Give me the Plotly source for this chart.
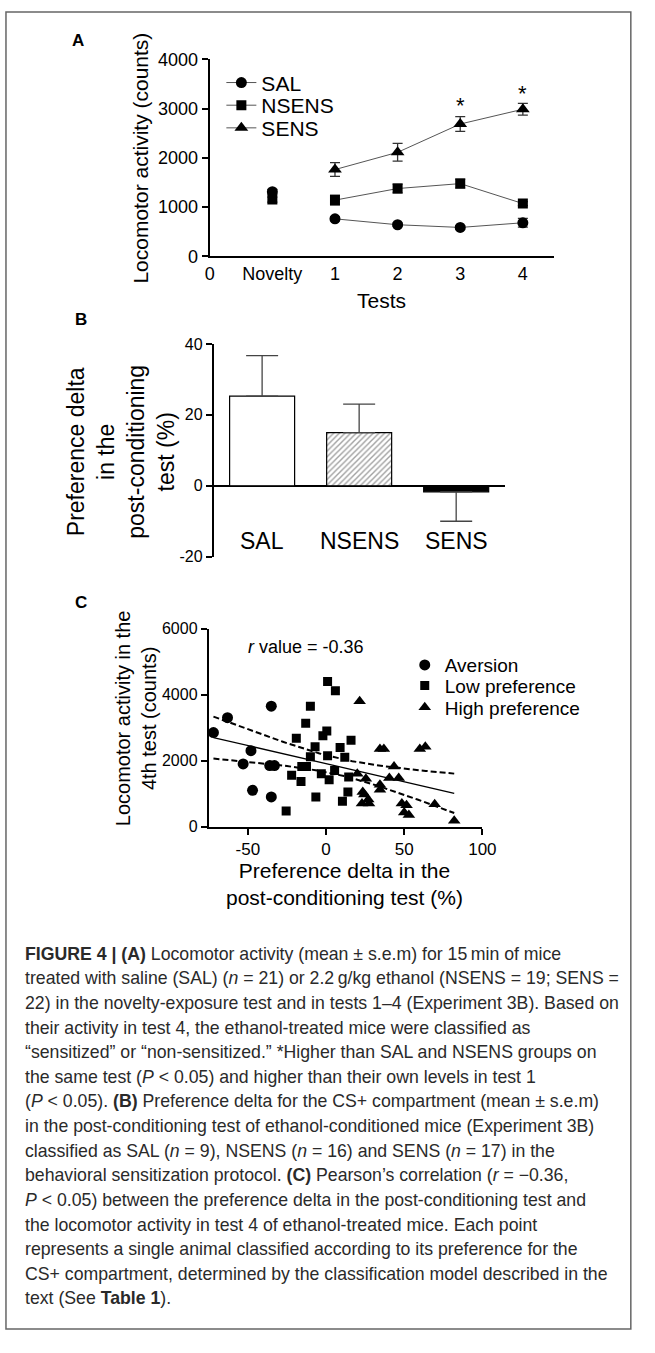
import numpy as np
import plotly.graph_objects as go

# The page body keeps its default 8px margin, so the figure is 16px smaller than the window
# and every position below is given in window pixels, then shifted by the margin.
WIN_W, WIN_H = 655, 1353
OFF = 8
W, H = WIN_W - 2 * OFF, WIN_H - 2 * OFF
def px(x):
    return (x - OFF) / W
def py(y):
    return 1 - (y - OFF) / H

FONT = "Liberation Sans, Arial, sans-serif"
CAPFONT = "Liberation Sans, Arial, sans-serif"

# ---------------- Panel A data ----------------
a_tick_labels = ["0", "Novelty", "1", "2", "3", "4"]
a_tests = ["1", "2", "3", "4"]
a_yticks = [0, 1000, 2000, 3000, 4000]
sal_novelty, sal_novelty_sem = 1310, 50
sal_tests = [760, 640, 585, 680]
sal_sem = [40, 30, 30, 90]
nsens_novelty, nsens_novelty_sem = 1150, 50
nsens_tests = [1140, 1375, 1475, 1070]
nsens_sem = [100, 90, 90, 40]
sens_tests = [1760, 2110, 2685, 2985]
sens_sem = [140, 180, 150, 120]
sig_tests = ["3", "4"]
sig_y = [3060, 3300]

# ---------------- Panel B data ----------------
b_groups = ["SAL", "NSENS", "SENS"]
b_means = [25.3, 15.0, -1.7]
b_sem = [11.4, 8.0, 8.3]
b_yticks = [-20, 0, 20, 40]

# ---------------- Panel C data ----------------
c_xticks = [-50, 0, 50, 100]
c_yticks = [0, 2000, 4000, 6000]
aversion_x = [-72, -63, -35, -48, -53, -36, -33, -47, -35]
aversion_y = [2850, 3300, 3650, 2300, 1900, 1850, 1850, 1100, 900]
low_x = [1, 6, -10, -13, -19, 0.5, -2, 16, -7, 9, 1, 12, -10, -15.5, -12.5,
         -3, 5.5, -22, 2, -16, 14.5, 14, -6.5, 10.5, -25.5]
low_y = [4400, 4120, 3650, 3130, 2680, 2900, 2750, 2620, 2420, 2400, 2150, 2100,
         2120, 1820, 1820, 1600, 1700, 1560, 1420, 1370, 1500, 1050, 900, 770, 470]
high_x = [21.5, 34.5, 37, 60, 63.5, 20, 25.5, 43.5, 40.5, 46.5, 34.5, 34.5, 23.5,
          24.5, 27, 23, 27.5, 48.5, 51.5, 50, 53, 69.5, 82]
high_y = [3800, 2350, 2350, 2350, 2420, 1600, 1450, 1820, 1470, 1470, 1270, 1120,
          1050, 970, 820, 700, 700, 700, 650, 430, 350, 680, 180]

caption_lines = [
    "<b>FIGURE 4 | (A)</b> Locomotor activity (mean ± s.e.m) for 15\u2009min of mice",
    "treated with saline (SAL) (<i>n</i> = 21) or 2.2\u2009g/kg ethanol (NSENS = 19; SENS =",
    "22) in the novelty-exposure test and in tests 1–4 (Experiment 3B). Based on",
    "their activity in test 4, the ethanol-treated mice were classified as",
    "“sensitized” or “non-sensitized.” *Higher than SAL and NSENS groups on",
    "the same test (<i>P</i> < 0.05) and higher than their own levels in test 1",
    "(<i>P</i> < 0.05). <b>(B)</b> Preference delta for the CS+ compartment (mean ± s.e.m)",
    "in the post-conditioning test of ethanol-conditioned mice (Experiment 3B)",
    "classified as SAL (<i>n</i> = 9), NSENS (<i>n</i> = 16) and SENS (<i>n</i> = 17) in the",
    "behavioral sensitization protocol. <b>(C)</b> Pearson’s correlation (<i>r</i> = −0.36,",
    "<i>P</i> < 0.05) between the preference delta in the post-conditioning test and",
    "the locomotor activity in test 4 of ethanol-treated mice. Each point",
    "represents a single animal classified according to its preference for the",
    "CS+ compartment, determined by the classification model described in the",
    "text (See <b>Table 1</b>).",
]

fig = go.Figure()

# ---------------- Panel A traces ----------------
line_col = "#555555"
err = dict(type="data", color="#333333", thickness=1.3, width=5)
series = [
    ("SAL", "circle", sal_tests, sal_sem, sal_novelty, sal_novelty_sem, 11, "legend"),
    ("NSENS", "square", nsens_tests, nsens_sem, nsens_novelty, nsens_novelty_sem, 10, "legend2"),
    ("SENS", "triangle-up", sens_tests, sens_sem, None, None, 12, "legend3"),
]
for name, sym, vals, sem, nov, novsem, msize, leg in series:
    fig.add_trace(go.Scatter(
        x=a_tests, y=vals, mode="lines+markers", name=name,
        line=dict(color=line_col, width=1),
        marker=dict(symbol=sym, size=msize, color="black"),
        error_y=dict(array=sem, **err),
        xaxis="x", yaxis="y", legend=leg))
    if nov is not None:
        fig.add_trace(go.Scatter(
            x=["Novelty"], y=[nov], mode="markers", showlegend=False,
            marker=dict(symbol=sym, size=msize, color="black"),
            error_y=dict(array=[novsem], **err),
            xaxis="x", yaxis="y"))

# ---------------- Panel B traces ----------------
b_err_plus = [s if m >= 0 else 0 for m, s in zip(b_means, b_sem)]
b_err_minus = [s if m < 0 else 0 for m, s in zip(b_means, b_sem)]
fig.add_trace(go.Bar(
    x=b_groups, y=b_means, width=0.67, showlegend=False,
    marker=dict(color=["white", "white", "black"],
                line=dict(color="black", width=1.2),
                pattern=dict(shape=["", "/", ""], fgcolor="black",
                             bgcolor="white", size=4, solidity=0.35)),
    error_y=dict(type="data", symmetric=False, array=b_err_plus,
                 arrayminus=b_err_minus, color="#444444", thickness=1.3, width=16),
    xaxis="x2", yaxis="y2"))

# ---------------- Panel C traces ----------------
groups_c = [
    ("Aversion", "circle", aversion_x, aversion_y, 11, "legend4"),
    ("Low preference", "square", low_x, low_y, 9, "legend5"),
    ("High preference", "triangle-up", high_x, high_y, 11, "legend6"),
]
for name, sym, xs, ys, ms, leg in groups_c:
    fig.add_trace(go.Scatter(
        x=xs, y=ys, mode="markers", name=name,
        marker=dict(symbol=sym, size=ms, color="black"),
        xaxis="x3", yaxis="y3", legend=leg))

all_x = np.array(aversion_x + low_x + high_x, dtype=float)
all_y = np.array(aversion_y + low_y + high_y, dtype=float)
n = len(all_x)
slope, intercept = np.polyfit(all_x, all_y, 1)
xs_fit = np.linspace(all_x.min(), all_x.max(), 60)
yhat = slope * xs_fit + intercept
resid = all_y - (slope * all_x + intercept)
s_err = np.sqrt(np.sum(resid ** 2) / (n - 2))
sxx = np.sum((all_x - all_x.mean()) ** 2)
half = 2.005 * s_err * np.sqrt(1.0 / n + (xs_fit - all_x.mean()) ** 2 / sxx)
fig.add_trace(go.Scatter(x=xs_fit, y=yhat, mode="lines", showlegend=False,
                         line=dict(color="black", width=1.3), xaxis="x3", yaxis="y3"))
for band in (yhat + half, yhat - half):
    fig.add_trace(go.Scatter(x=xs_fit, y=band, mode="lines", showlegend=False,
                             line=dict(color="black", width=2, dash="6px,3px"),
                             xaxis="x3", yaxis="y3"))

# ---------------- Layout ----------------
axis_common = dict(showline=True, linecolor="black", linewidth=2, ticks="outside",
                   ticklen=6, tickwidth=1.5, tickcolor="black", showgrid=False,
                   zeroline=False, tickfont=dict(family=FONT, size=17, color="black"))

annotations = []
# Panel letters
for letter, x0, y0 in [("A", 75, 39), ("B", 78, 322), ("C", 78, 610)]:
    annotations.append(dict(text="<b>%s</b>" % letter, x=px(x0), y=py(y0), xref="paper",
                            yref="paper", xanchor="left", yanchor="middle", showarrow=False,
                            font=dict(family=FONT, size=17, color="black")))

# Panel A texts
annotations.append(dict(text="Locomotor activity (counts)", x=px(148), y=py(158), xref="paper",
                        yref="paper", textangle=-90, showarrow=False, xanchor="center",
                        yanchor="middle", font=dict(family=FONT, size=21, color="black")))
annotations.append(dict(text="Tests", x=px(396), y=py(303), xref="paper", yref="paper",
                        xanchor="center", yanchor="middle",
                        showarrow=False, font=dict(family=FONT, size=21, color="black")))
for t, yv in zip(sig_tests, sig_y):
    annotations.append(dict(text="*", x=a_tick_labels.index(t), y=yv, xref="x", yref="y",
                            showarrow=False, xanchor="center", yanchor="middle",
                            font=dict(family=FONT, size=22, color="black")))

# Panel B texts
annotations.append(dict(text="Preference delta<br>in the<br>post-conditioning<br>test (%)",
                        x=px(128), y=py(456), xref="paper", yref="paper", textangle=-90,
                        xanchor="center", yanchor="middle",
                        showarrow=False, font=dict(family=FONT, size=23, color="black")))
for g in b_groups:
    annotations.append(dict(text=g, x=b_groups.index(g), y=-15.6, xref="x2", yref="y2",
                            showarrow=False, xanchor="center", yanchor="middle",
                            font=dict(family=FONT, size=23, color="black")))

# Panel C texts
annotations.append(dict(text="Locomotor activity in the<br>4th test (counts)", x=px(143),
                        y=py(727), xref="paper", yref="paper", textangle=-90,
                        xanchor="center", yanchor="middle",
                        showarrow=False, font=dict(family=FONT, size=20, color="black")))
annotations.append(dict(text="Preference delta in the<br>post-conditioning test (%)",
                        x=px(358), y=py(895), xref="paper", yref="paper", showarrow=False,
                        xanchor="center", yanchor="middle",
                        font=dict(family=FONT, size=21, color="black")))
annotations.append(dict(text="<i>r</i> value = -0.36", x=px(256), y=py(655), xref="paper",
                        yref="paper", xanchor="left", yanchor="middle", showarrow=False,
                        font=dict(family=FONT, size=18, color="black")))

# Caption
for i, line in enumerate(caption_lines):
    annotations.append(dict(text=line, x=px(27), y=py(966 + 25 * i), xref="paper",
                            yref="paper", xanchor="left", yanchor="middle", showarrow=False,
                            align="left", font=dict(family=CAPFONT, size=17.7, color="#2a2a2a")))

def leg(xpix, ypix, size):
    return dict(x=px(xpix), y=py(ypix), xanchor="left", yanchor="middle",
                font=dict(family=FONT, size=size, color="black"),
                bgcolor="rgba(0,0,0,0)", itemwidth=30, borderwidth=0)

fig.update_layout(
    width=W, height=H, autosize=False,
    margin=dict(l=0, r=0, t=0, b=0),
    paper_bgcolor="white", plot_bgcolor="white",
    font=dict(family=FONT, color="black"),
    xaxis=dict(axis_common, domain=[px(219), px(574)], type="category",
               categoryorder="array", categoryarray=a_tick_labels, range=[0, 5.5],
               ticks="", tickfont=dict(family=FONT, size=18, color="black"), anchor="y"),
    yaxis=dict(axis_common, domain=[py(258), py(58)], range=[0, 4000],
               tickvals=a_yticks, ticktext=[str(v) for v in a_yticks], anchor="x",
               tickfont=dict(family=FONT, size=18, color="black")),
    xaxis2=dict(axis_common, domain=[px(223), px(523)], range=[-0.5, 2.5],
                showline=False, ticks="", showticklabels=False, anchor="y2"),
    yaxis2=dict(axis_common, domain=[py(563), py(347)], range=[-20, 40],
                tickvals=b_yticks, ticktext=[str(v) for v in b_yticks],
                zeroline=True, zerolinecolor="black",
                zerolinewidth=2, anchor="x2", linewidth=1.5,
                tickfont=dict(family=FONT, size=16, color="black")),
    xaxis3=dict(axis_common, domain=[px(218), px(500)], range=[-75, 100],
                tickvals=c_xticks, ticktext=[str(v) for v in c_xticks], anchor="y3"),
    yaxis3=dict(axis_common, domain=[py(837), py(636)], range=[0, 6000],
                tickvals=c_yticks, ticktext=[str(v) for v in c_yticks], anchor="x3",
                tickfont=dict(family=FONT, size=16, color="black")),
    legend=leg(231, 82, 21),
    legend2=leg(231, 105, 21),
    legend3=leg(231, 128, 21),
    legend4=leg(420, 673, 19),
    legend5=leg(420, 694, 19),
    legend6=leg(420, 716, 19),
    annotations=annotations,
    shapes=[dict(type="rect", xref="paper", yref="paper", x0=px(9), x1=px(653),
                 y0=py(1347), y1=py(10), line=dict(color="#666666", width=1.5))],
    showlegend=True,
)

fig.write_html("out.html", config={"displayModeBar": False})
